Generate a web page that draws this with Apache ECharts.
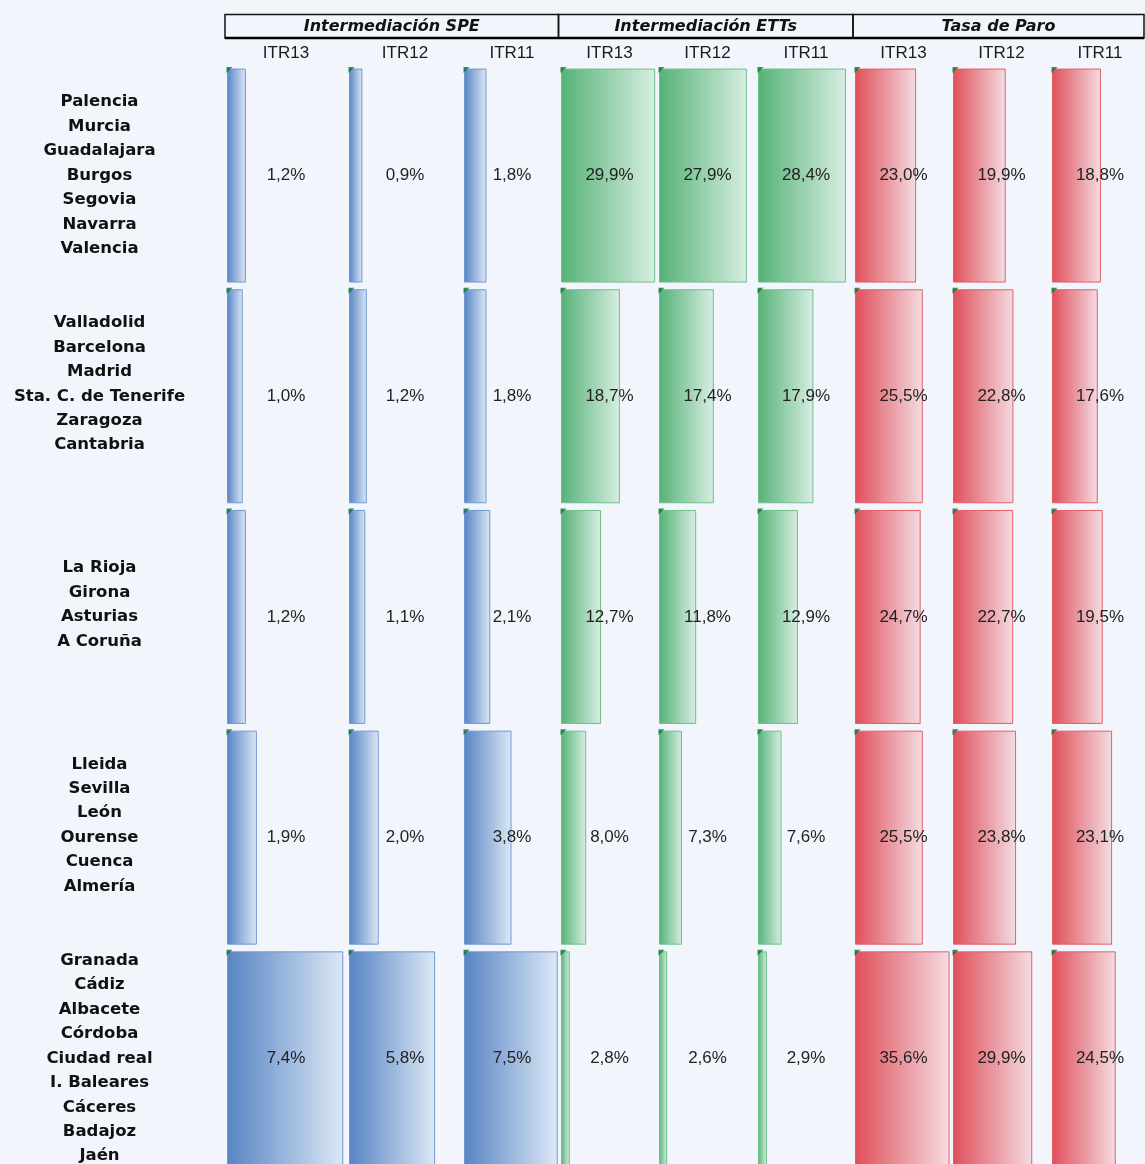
<!DOCTYPE html>
<html>
<head>
<meta charset="utf-8">
<title>Intermediación SPE / ETTs y Tasa de Paro</title>
<script src="https://cdn.jsdelivr.net/npm/echarts@6/dist/echarts.min.js"></script>
<style>
    html, body { margin: 0; padding: 0; background: #f2f6fc; }
    #chart { width: 1145px; height: 1164px; }
</style>
</head>
<body>
<div id="chart"></div>
<script>
// grupos de provincias (una fila por grupo)
const groups = [
    ['Palencia', 'Murcia', 'Guadalajara', 'Burgos', 'Segovia', 'Navarra', 'Valencia'],
    ['Valladolid', 'Barcelona', 'Madrid', 'Sta. C. de Tenerife', 'Zaragoza', 'Cantabria'],
    ['La Rioja', 'Girona', 'Asturias', 'A Coruña'],
    ['Lleida', 'Sevilla', 'León', 'Ourense', 'Cuenca', 'Almería'],
    ['Granada', 'Cádiz', 'Albacete', 'Córdoba', 'Ciudad real', 'I. Baleares', 'Cáceres', 'Badajoz', 'Jaén'],
];

const blocks = ['Intermediación SPE', 'Intermediación ETTs', 'Tasa de Paro'];
const periods = ['ITR13', 'ITR12', 'ITR11'];

// valores (%) por columna, una entrada por grupo
const speItr13 = [1.2, 1.0, 1.2, 1.9, 7.4];
const speItr12 = [0.9, 1.2, 1.1, 2.0, 5.8];
const speItr11 = [1.8, 1.8, 2.1, 3.8, 7.5];
const ettItr13 = [29.9, 18.7, 12.7, 8.0, 2.8];
const ettItr12 = [27.9, 17.4, 11.8, 7.3, 2.6];
const ettItr11 = [28.4, 17.9, 12.9, 7.6, 2.9];
const paroItr13 = [23.0, 25.5, 24.7, 25.5, 35.6];
const paroItr12 = [19.9, 22.8, 22.7, 23.8, 29.9];
const paroItr11 = [18.8, 17.6, 19.5, 23.1, 24.5];

const columns = [speItr13, speItr12, speItr11, ettItr13, ettItr12, ettItr11, paroItr13, paroItr12, paroItr11];

// escala de cada columna (fin del eje)
const colMax = [7.51, 7.54, 7.68, 30.8, 30.8, 31.0, 36.5, 36.6, 36.9];

// layout de las celdas
const cellLeft = [227, 349, 464, 561, 659, 758, 855, 953, 1052];
const cellWidth = [118, 112, 96, 97, 97, 96, 97, 97, 96];
const gridTop = 65.2;
const rowPitch = 220.7;
const barHeight = 214;

const palettes = [
    { from: '#5784c4', to: '#dce8f5', border: '#6f98d3' },
    { from: '#55b276', to: '#d8eee2', border: '#6cc18a' },
    { from: '#e04f5a', to: '#f4dce2', border: '#e45e68' },
];

const fontFamily = '"Liberation Sans", Arial, Helvetica, sans-serif';
const wideFamily = '"DejaVu Sans", Verdana, sans-serif';
const fmt = (v) => v.toFixed(1).replace('.', ',') + '%';

const chart = echarts.init(document.getElementById('chart'));

const grid = [];
const xAxis = [];
const yAxis = [];
const series = [];

columns.forEach((values, c) => {
    const pal = palettes[Math.floor(c / 3)];

    grid.push({
        left: cellLeft[c],
        top: gridTop,
        width: cellWidth[c],
        height: rowPitch * groups.length,
        outerBoundsMode: 'none',
    });

    xAxis.push({
        type: 'value',
        gridIndex: c,
        min: 0,
        max: colMax[c],
        position: 'top',
        name: periods[c % 3],
        nameLocation: 'middle',
        nameGap: 3,
        nameTextStyle: { fontSize: 17, color: '#1a1a1a', fontFamily },
        axisLine: { show: false },
        axisTick: { show: false },
        axisLabel: { show: false },
        splitLine: { show: false },
    });

    yAxis.push({
        type: 'category',
        gridIndex: c,
        inverse: true,
        data: groups.map((g) => g.join('\n') + (g.length % 2 === 0 ? '\n ' : '')),
        axisLine: { show: false },
        axisTick: { show: false },
        splitLine: { show: false },
        axisLabel: {
            show: c === 0,
            align: 'center',
            margin: 127.5,
            fontSize: 16.5,
            fontWeight: 'bold',
            lineHeight: 24.45,
            color: '#111',
            fontFamily: wideFamily,
            padding: [9, 0, 0, 0],
        },
    });

    series.push({
        type: 'bar',
        xAxisIndex: c,
        yAxisIndex: c,
        data: values,
        barWidth: barHeight,
        barGap: '-100%',
        itemStyle: {
            color: new echarts.graphic.LinearGradient(0, 0, 1, 0, [
                { offset: 0, color: pal.from },
                { offset: 1, color: pal.to },
            ]),
            borderColor: pal.border,
            borderWidth: 1,
        },
        silent: true,
        z: 2,
    });

    // celda completa invisible, solo para centrar la etiqueta
    series.push({
        type: 'bar',
        xAxisIndex: c,
        yAxisIndex: c,
        data: values.map(() => colMax[c]),
        barWidth: barHeight,
        barGap: '-100%',
        itemStyle: { color: 'rgba(0,0,0,0)' },
        label: {
            show: true,
            position: 'inside',
            fontSize: 17,
            color: '#222',
            fontFamily,
            padding: [2, 0, 0, 0],
            formatter: (p) => fmt(values[p.dataIndex]),
        },
        silent: true,
        z: 3,
    });

    // marca verde en la esquina de cada barra
    series.push({
        type: 'scatter',
        xAxisIndex: c,
        yAxisIndex: c,
        data: values.map((v, i) => [0, i]),
        symbol: 'path://M0 0 L10 0 L0 10 Z',
        symbolSize: 6,
        symbolOffset: [2.5, -barHeight / 2 + 1.5],
        itemStyle: { color: '#0b7436' },
        silent: true,
        z: 4,
    });
});

// cabeceras de bloque
const blockEdges = [225, 558.5, 853, 1144];
const graphic = [];
blocks.forEach((name, b) => {
    const x0 = blockEdges[b];
    const x1 = blockEdges[b + 1];
    graphic.push({
        type: 'rect',
        shape: { x: x0, y: 14.5, width: x1 - x0, height: 23.5 },
        style: { fill: 'none', stroke: '#111', lineWidth: 1.5 },
    });
    graphic.push({
        type: 'text',
        x: (x0 + x1) / 2,
        y: 26.5,
        style: {
            text: name,
            fontSize: 16,
            fontWeight: 'bold',
            fontStyle: 'italic',
            fontFamily: wideFamily,
            fill: '#111',
            align: 'center',
            verticalAlign: 'middle',
        },
    });
});
graphic.push({
    type: 'line',
    shape: { x1: 225, y1: 38, x2: 1144, y2: 38 },
    style: { stroke: '#000', lineWidth: 2.5 },
});

chart.setOption({
    backgroundColor: '#f2f6fc',
    animation: false,
    grid,
    xAxis,
    yAxis,
    series,
    graphic,
});
</script>
</body>
</html>
